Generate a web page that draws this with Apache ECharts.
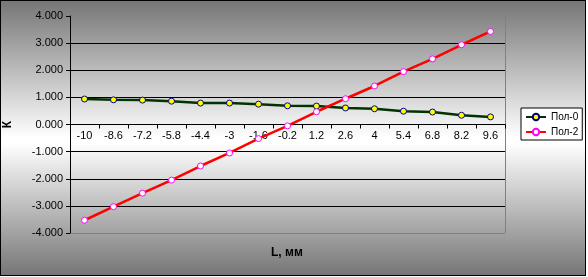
<!DOCTYPE html>
<html><head><meta charset="utf-8">
<script src="https://cdn.jsdelivr.net/npm/echarts@6/dist/echarts.min.js"></script>
<style>
html,body{margin:0;padding:0;background:#fff;}
#wrap{position:absolute;left:0;top:0;width:586px;height:276px;box-sizing:border-box;border:1px solid #000;
background:linear-gradient(to bottom,#767676 0%,#ffffff 50%,#ffffff 52%,#767676 100%);}
#main{width:584px;height:274px;}
</style></head>
<body><div id="wrap"><div id="main"></div></div>
<script>
const categories = ['-10','-8.6','-7.2','-5.8','-4.4','-3','-1.6','-0.2','1.2','2.6','4','5.4','6.8','8.2','9.6'];
const pol0 = [0.94,0.91,0.90,0.86,0.79,0.79,0.75,0.69,0.68,0.61,0.58,0.49,0.46,0.34,0.28];
const pol2 = [-3.53,-3.03,-2.53,-2.05,-1.53,-1.05,-0.52,-0.05,0.47,0.95,1.42,1.95,2.42,2.94,3.43];
const yTicks = [-4,-3,-2,-1,0,1,2,3,4];
const seriesNames = ['Пол-0','Пол-2'];

const font = 'Liberation Sans, Arial, sans-serif';
const chart = echarts.init(document.getElementById('main'));
const xAxisOpt = {
  type:'category', data:categories, boundaryGap:true, offset:0,
  axisLine:{onZero:false,lineStyle:{color:'#000',width:1}},
  axisTick:{show:true,length:4,lineStyle:{color:'#000'},interval:0},
  axisLabel:{interval:0,color:'#000',fontFamily:font,fontSize:11,margin:6},
  splitLine:{show:false}
};
chart.setOption({
  animation:false,
  grid:{left:69,right:80,top:15,bottom:42,containLabel:false,outerBoundsMode:'none'},
  legend:{
    left:520, top:107, orient:'vertical',
    data:seriesNames,
    backgroundColor:'#fff', borderColor:'#000', borderWidth:1,
    padding:[4,4,3,4], itemGap:5, itemWidth:20, itemHeight:8,
    textStyle:{fontFamily:font,fontSize:10,color:'#000'}
  },
  xAxis:xAxisOpt,
  yAxis:{
    type:'value', min:yTicks[0], max:yTicks[yTicks.length-1], interval:1,
    name:'К', nameLocation:'middle', nameRotate:90, nameGap:56,
    nameTextStyle:{fontFamily:font,fontSize:12,fontWeight:'bold',color:'#000'},
    axisLine:{show:true,onZero:false,lineStyle:{color:'#000'}},
    axisTick:{show:true,length:4,lineStyle:{color:'#000'}},
    axisLabel:{color:'#000',fontFamily:font,fontSize:11,margin:7,formatter:v=>v.toFixed(3)},
    splitLine:{show:true,lineStyle:{width:1,color:['#808080','#000','#000','#000','#000','#000','#000','#000','rgba(0,0,0,0)']}}
  },
  series:[{
    name:seriesNames[0], type:'line', data:pol0,
    symbol:'circle', symbolSize:6,
    lineStyle:{color:'#003300',width:2.5},
    itemStyle:{color:'#ffff00',borderColor:'#000080',borderWidth:1}
  },{
    name:seriesNames[1], type:'line', data:pol2,
    symbol:'circle', symbolSize:6,
    lineStyle:{color:'#ff0000',width:2.5},
    itemStyle:{color:'#ffffff',borderColor:'#ff00ff',borderWidth:1}
  }]
});
// place x axis at y=0 using the value scale, and draw plot-area right border
const rect = chart.getModel().getComponent('grid').coordinateSystem.getRect();
const zeroY = chart.convertToPixel({yAxisIndex:0}, 0);
const bottomY = rect.y + rect.height;
chart.setOption({
  xAxis:{offset: zeroY - bottomY},
  graphic:[{type:'text',left:270,top:246,style:{text:'L, мм',font:'bold 12px '+font,fill:'#000'}},
  {type:'line',shape:{x1:rect.x+rect.width+0.5,y1:rect.y,x2:rect.x+rect.width+0.5,y2:bottomY},style:{stroke:'#808080',lineWidth:1},silent:true}]
});
</script></body></html>
